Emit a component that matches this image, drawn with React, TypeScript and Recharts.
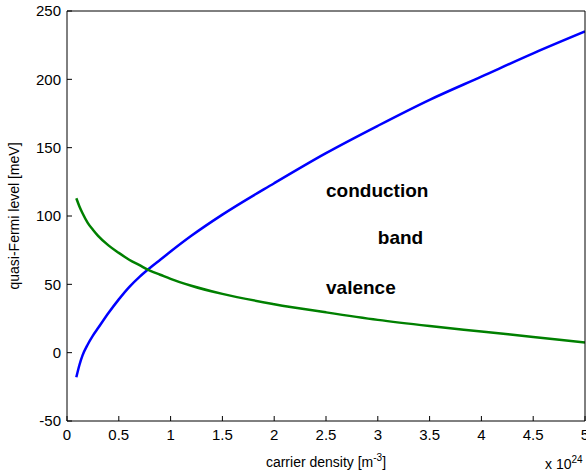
import React from "react";
import {
  LineChart,
  Line,
  XAxis,
  YAxis,
  ReferenceDot,
  Label,
} from "recharts";

// carrier density in units of 1e24 m^-3
const density = [
  0.09, 0.12, 0.15, 0.2, 0.25, 0.3, 0.4, 0.5, 0.6, 0.7, 0.8, 0.9, 1.0, 1.2, 1.5, 2.0,
  2.5, 3.0, 3.5, 4.0, 4.5, 5.0,
];
const conduction = [
  -18, -9, -2, 6, 12.5, 18, 29, 39, 48, 55.5, 62, 68, 74, 85.5, 101, 124, 146, 166,
  185, 202, 219, 235,
];
const valence = [
  113, 107, 102, 95, 90, 85.5, 78.5, 73, 68, 64, 60, 57, 54, 49, 43, 35.5, 29.5, 24,
  19.5, 15.5, 11.5, 7.5,
];
const xTicks = [0, 0.5, 1, 1.5, 2, 2.5, 3, 3.5, 4, 4.5, 5];
const yTicks = [-50, 0, 50, 100, 150, 200, 250];

const notes = [
  { x: 2.5, y: 119, text: "conduction" },
  { x: 3.0, y: 84, text: "band" },
  { x: 2.5, y: 48, text: "valence" },
];

const data = density.map((d, i) => ({
  d,
  cb: conduction[i],
  vb: valence[i],
}));

const font = "Liberation Sans, Arial, sans-serif";
const tickStyle = { fontSize: 15, fill: "#000", fontFamily: font };

export default function App() {
  return (
    <div style={{ position: "absolute", left: 0, top: 0, background: "#fff" }}>
      <LineChart
        width={586}
        height={473}
        data={data}
        margin={{ top: 10, right: 0, left: 0, bottom: 0 }}
      >
        <XAxis
          dataKey="d"
          type="number"
          domain={[0, 5]}
          ticks={xTicks}
          interval={0}
          height={52}
          stroke="#000"
          tickSize={-5}
          tickMargin={13}
          tick={tickStyle}
          allowDataOverflow
        >
          <Label
            content={({ viewBox }: any) => (
              <g fontFamily={font} fill="#000">
                <text x={viewBox.x + viewBox.width / 2} y={viewBox.y + 46} textAnchor="middle" fontSize={14}>
                  carrier density [m
                  <tspan dy={-6} fontSize={10}>-3</tspan>
                  <tspan dy={6} fontSize={14}>]</tspan>
                </text>
                <text x={545} y={viewBox.y + 48} fontSize={14}>
                  x 10
                  <tspan dy={-6} fontSize={10}>24</tspan>
                </text>
              </g>
            )}
          />
        </XAxis>
        <XAxis
          xAxisId="top"
          orientation="top"
          dataKey="d"
          type="number"
          domain={[0, 5]}
          ticks={xTicks}
          height={1}
          stroke="#000"
          tickSize={-5}
          tick={false}
        />
        <YAxis
          type="number"
          domain={[-50, 250]}
          ticks={yTicks}
          interval={0}
          width={67}
          stroke="#000"
          tickSize={-5}
          tickMargin={11}
          tick={tickStyle}
        >
          <Label
            content={({ viewBox }: any) => (
              <text
                x={19}
                y={viewBox.y + viewBox.height / 2}
                transform={`rotate(-90 19 ${viewBox.y + viewBox.height / 2})`}
                textAnchor="middle"
                fontSize={14}
                fontFamily={font}
                fill="#000"
              >
                quasi-Fermi level [meV]
              </text>
            )}
          />
        </YAxis>
        <YAxis
          yAxisId="right"
          orientation="right"
          type="number"
          domain={[-50, 250]}
          ticks={yTicks}
          width={1}
          stroke="#000"
          tickSize={-5}
          tick={false}
        />
        <Line
          dataKey="cb"
          stroke="#0000ff"
          strokeWidth={2.5}
          dot={false}
          type="monotone"
          isAnimationActive={false}
        />
        <Line
          dataKey="vb"
          stroke="#008000"
          strokeWidth={2.5}
          dot={false}
          type="monotone"
          isAnimationActive={false}
        />
        {notes.map((n) => (
          <ReferenceDot
            key={n.text}
            x={n.x}
            y={n.y}
            r={0}
            stroke="none"
            label={({ viewBox }: any) => (
              <text
                x={viewBox.x}
                y={viewBox.y}
                dominantBaseline="central"
                fontSize={19}
                fontWeight="bold"
                fontFamily={font}
                fill="#000"
              >
                {n.text}
              </text>
            )}
          />
        ))}
      </LineChart>
    </div>
  );
}
